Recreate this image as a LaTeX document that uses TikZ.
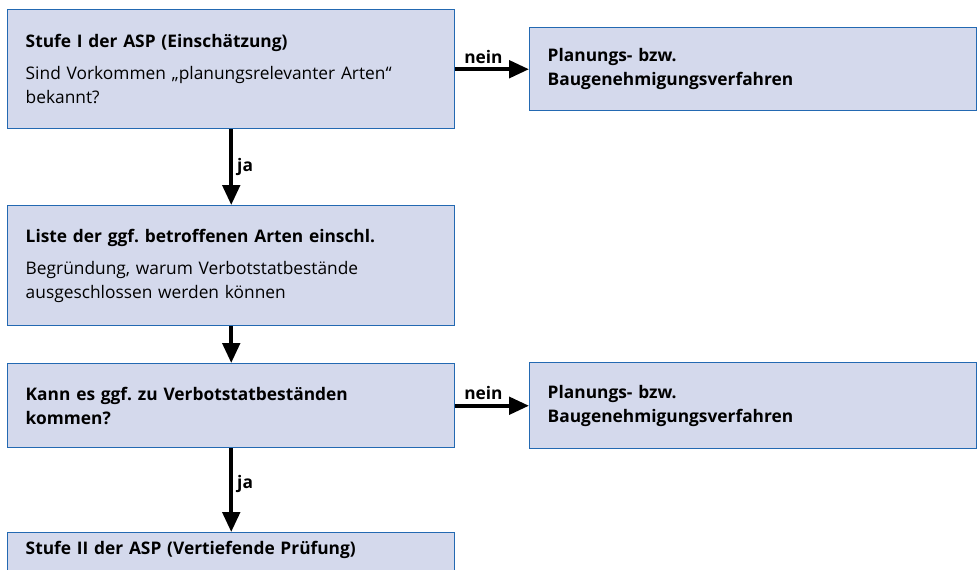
\documentclass[tikz,border=0pt]{standalone}
\usepackage{fontspec}
\setmainfont{Open Sans}
\usepackage{tikz}
\usetikzlibrary{arrows.meta}
\definecolor{bleu}{RGB}{212,217,236}
\definecolor{bord}{RGB}{35,105,178}
\frenchspacing

\begin{document}
\begin{tikzpicture}[x=0.75pt, y=-0.75pt, font=\fontsize{13}{18}\selectfont]
  \tikzstyle{etape}=[rectangle, anchor=north west, draw=bord, fill=bleu, line width=1.1pt, text width=308.25pt, inner xsep=13.5pt, align=left]
  \tikzstyle{fleche}=[-{Triangle[length=15pt,width=13pt]}, line width=3pt]
  \tikzstyle{reponse}=[font=\fontsize{13}{18}\selectfont\bfseries, inner sep=3pt]

  \useasboundingbox (0,0) rectangle (980,569);
  \clip (0,0) rectangle (980,569);

	\node[etape, minimum height=89.25pt] (S1) at (7,9) {\textbf{Stufe I der ASP (Einschätzung)}\\[6pt]Sind Vorkommen „planungsrelevanter Arten“\\bekannt?};
	\node[etape, minimum height=62.25pt] (P1) at (529,27) {\textbf{Planungs- bzw.}\\\textbf{Baugenehmigungsverfahren}};
	\node[etape, minimum height=90pt] (L1) at (7,205) {\textbf{Liste der ggf. betroffenen Arten einschl.}\\[6pt]Begründung, warum Verbotstatbestände\\ausgeschlossen werden können};
	\node[etape, minimum height=63pt] (K1) at (7,363) {\textbf{Kann es ggf. zu Verbotstatbeständen}\\\textbf{kommen?}};
	\node[etape, minimum height=64.5pt] (P2) at (529,362) {\textbf{Planungs- bzw.}\\\textbf{Baugenehmigungsverfahren}};
	\node[etape, text height=9.5pt, text depth=30pt, inner ysep=6.5pt] (S2) at (7,532) {\textbf{Stufe II der ASP (Vertiefende Prüfung)}};

	\path[fleche]
		(S1) edge node[reponse, above, pos=0.38] {nein} (P1)
		(S1) edge node[reponse, right] {ja} (L1)
		(L1) edge (K1)
		(K1) edge node[reponse, above, pos=0.38] {nein} (P2)
		(K1) edge node[reponse, right, pos=0.42] {ja} (S2)
		;

\end{tikzpicture}
\end{document}
